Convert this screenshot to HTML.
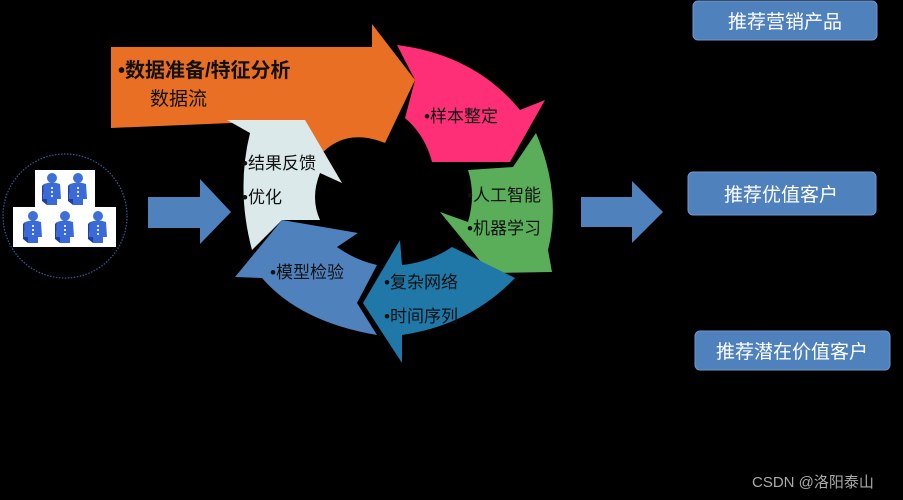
<!DOCTYPE html>
<html><head><meta charset="utf-8"><style>
html,body{margin:0;padding:0;background:#000;}
svg{display:block}
text{font-family:"Liberation Sans","Noto Sans CJK SC",sans-serif;}
</style></head><body>
<svg width="903" height="500" viewBox="0 0 903 500" xmlns="http://www.w3.org/2000/svg">
<rect width="903" height="500" fill="#000"/>
<defs>
<g id="p">
<ellipse cx="0" cy="-13" rx="5" ry="5" fill="#3f6fd6"/>
<path d="M-8,-7 Q0,-10 8,-7 L9,8 L5,8 L5,14 L-5,14 L-5,8 L-9,8 Z" fill="#3a6ad8"/>
<path d="M-8,-7 L-10,-5 L-10,10 L-5,14 L-5,8 L-9,8 Z" fill="#1e3fa0"/>
<rect x="-1" y="-4" width="2" height="2" fill="#dfe8ff"/>
<rect x="-1" y="0" width="2" height="2" fill="#dfe8ff"/>
<rect x="-1" y="4" width="2" height="2" fill="#dfe8ff"/>
</g>
</defs>
<!-- people circle -->
<circle cx="65" cy="216" r="62" fill="none" stroke="#2e5f9a" stroke-width="1.2" stroke-dasharray="1.5,1.5"/>
<rect x="35" y="170" width="60" height="38" fill="#fff"/>
<rect x="13" y="207" width="103" height="40" fill="#fff"/>
<use href="#p" x="52" y="191"/>
<use href="#p" x="78" y="191"/>
<use href="#p" x="33" y="229"/>
<use href="#p" x="65" y="229"/>
<use href="#p" x="98" y="229"/>
<!-- left arrow -->
<polygon points="148,197 200,197 200,179 231,212 200,244 200,228 148,228" fill="#4f81bd"/>
<!-- right arrow -->
<polygon points="581,197 632,197 632,181 663,212 632,243 632,227 581,227" fill="#4f81bd"/>
<!-- orange -->
<path d="M111,47 L372,47 L372,24 L415,80 L385,143 Q348,128 323,152 L303,120 L111,128 Z" fill="#e96f24"/>
<!-- light -->
<path d="M227,120 L305,120 L342,183 L320,173 Q310,198 320,220 L282,220 L252,250 Q236,190 250,133 Z" fill="#dce9ea"/>
<!-- pink -->
<path d="M397,45 Q475,55 520,110 L545,100 L510,162 L432,162 Q425,135 405,118 L415,80 Z" fill="#fe2e77"/>
<!-- green -->
<path d="M513,167 L536,133 Q562,195 548,250 L552,272 L490,273 L440,212 L468,222 Q476,195 468,170 Z" fill="#5aae5a"/>
<!-- dark blue -->
<path d="M400,240 L402,265 Q430,262 452,247 L515,278 Q470,325 402,335 L402,363 L363,303 Z" fill="#1f78a8"/>
<!-- mid blue -->
<path d="M377,335 L357,303 L377,265 Q355,260 337,247 L358,233 L282,220 L235,277 L262,278 Q300,322 377,335 Z" fill="#4f81bd"/>
<!-- texts -->
<text x="118" y="77" font-size="20" font-weight="bold" fill="#111">•数据准备/特征分析</text>
<text x="150" y="105" font-size="19" fill="#111">数据流</text>
<text x="424" y="122" font-size="17" fill="#111">•样本整定</text>
<text x="242" y="169" font-size="17" fill="#111">•结果反馈</text>
<text x="242" y="203" font-size="17" fill="#111">•优化</text>
<text x="467" y="201" font-size="17" fill="#111">•人工智能</text>
<text x="467" y="234" font-size="17" fill="#111">•机器学习</text>
<text x="270" y="278" font-size="17" fill="#111">•模型检验</text>
<text x="384" y="288" font-size="17" fill="#111">•复杂网络</text>
<text x="384" y="322" font-size="17" fill="#111">•时间序列</text>
<!-- boxes -->
<rect x="693" y="1" width="184" height="39" rx="5" fill="#4f81bd" stroke="#6f97cc"/>
<text x="785" y="28" font-size="19" fill="#fff" text-anchor="middle">推荐营销产品</text>
<rect x="688" y="172" width="188" height="43" rx="5" fill="#4f81bd" stroke="#6f97cc"/>
<text x="781" y="201" font-size="19" fill="#fff" text-anchor="middle">推荐优值客户</text>
<rect x="695" y="331" width="195" height="39" rx="5" fill="#4f81bd" stroke="#6f97cc"/>
<text x="792" y="358" font-size="19" fill="#fff" text-anchor="middle">推荐潜在价值客户</text>
<text x="752" y="487" font-size="15" fill="#aaa">CSDN @洛阳泰山</text>
</svg>
</body></html>
